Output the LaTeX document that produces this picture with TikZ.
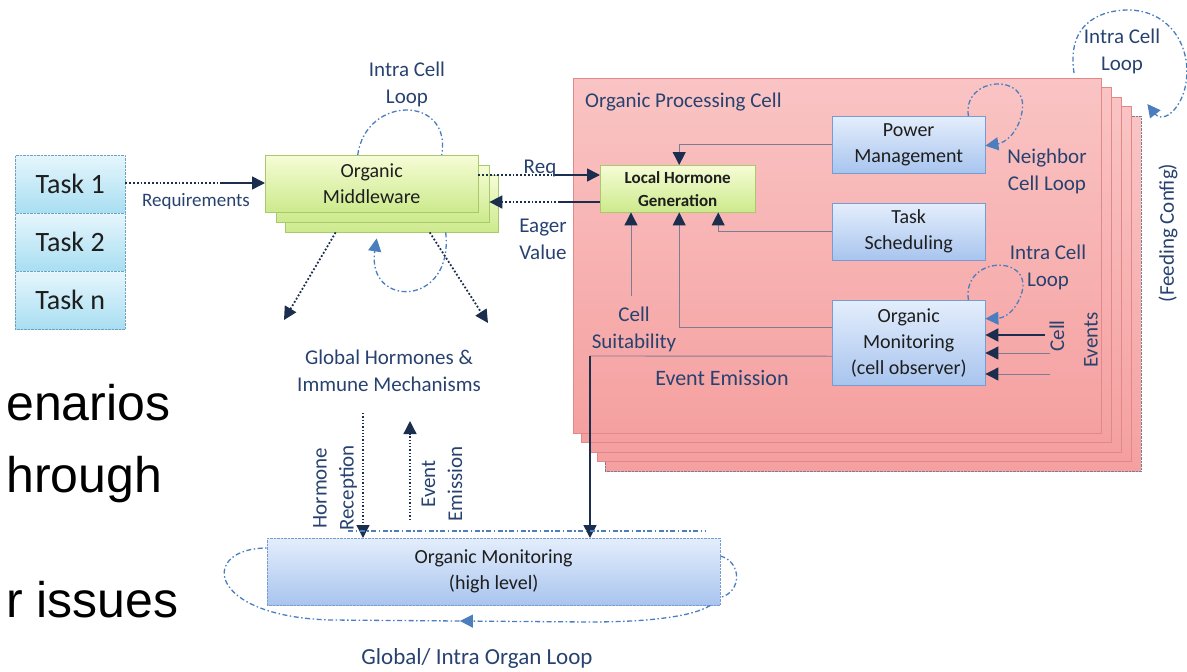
\documentclass[tikz,border=0pt]{standalone}
\usepackage{fontspec}
\setmainfont{Carlito}
\newfontfamily\arialf{Liberation Sans}
\usetikzlibrary{arrows.meta,decorations.markings}
\definecolor{lblc}{RGB}{40,66,112}
\definecolor{navyc}{RGB}{28,46,78}
\definecolor{loopc}{RGB}{74,126,190}
\definecolor{grayl}{RGB}{125,125,145}
\definecolor{grnt}{RGB}{246,252,214}
\definecolor{grnb}{RGB}{204,234,140}
\definecolor{grnd}{RGB}{170,200,110}
\definecolor{blut}{RGB}{228,238,252}
\definecolor{blub}{RGB}{168,196,238}
\definecolor{blud}{RGB}{120,155,212}
\definecolor{tskt}{RGB}{230,246,252}
\definecolor{tskb}{RGB}{168,222,242}
\definecolor{tskd}{RGB}{110,160,192}
\definecolor{pnkt}{RGB}{250,196,196}
\definecolor{pnkb}{RGB}{245,160,160}
\definecolor{pnkd}{RGB}{226,136,136}
\definecolor{txtc}{RGB}{30,30,30}
\begin{document}
\begin{tikzpicture}[x=1pt,y=-1pt,
  lbl/.style={font=\fontsize{21}{27}\selectfont, text=lblc, align=center, inner sep=0pt},
  boxtxt/.style={font=\fontsize{20}{26}\selectfont, text=txtc, align=center, inner sep=0pt},
  taskbox/.style={draw=tskd, densely dotted, top color=tskt, bottom color=tskb, minimum width=110pt, minimum height=58pt, inner sep=0pt, anchor=north west, font=\fontsize{28}{32}\selectfont, text=txtc},
  grnbox/.style={draw=grnd, top color=grnt, bottom color=grnb, inner sep=0pt, anchor=north west},
  blubox/.style={draw=blud, top color=blut, bottom color=blub, inner sep=0pt, anchor=north west, font=\fontsize{20}{26}\selectfont, text=txtc, align=center},
  pnkbox/.style={draw=pnkd, top color=pnkt, bottom color=pnkb, inner sep=0pt, anchor=north west, minimum height=355pt},
  tip/.style={-{Triangle[length=13pt,width=13pt,color=navyc]}},
  navyline/.style={draw=navyc, line width=1.5pt},
  navydot/.style={draw=navyc, line width=1.8pt, dotted},
  grline/.style={draw=grayl, line width=0.9pt},
  loopline/.style={draw=loopc, line width=1.3pt, dash pattern=on 5pt off 2.5pt on 1.5pt off 2.5pt},
  looptip/.style={-{Triangle[length=13pt,width=13pt,color=loopc]}},
  bigtxt/.style={font=\arialf\fontsize{50}{56}\selectfont, text=black, inner sep=0pt, anchor=base west}
]
\useasboundingbox (0,0) rectangle (1187,672);

% ---------------- Tasks ----------------
\node[taskbox] (t1) at (15,155) {Task 1};
\node[taskbox] (t2) at (15,213) {Task 2};
\node[taskbox] (tn) at (15,271) {Task n};

% ---------------- Organic Middleware ----------------
\node[grnbox, minimum width=213pt, minimum height=57pt] (mw3) at (285,175) {};
\node[grnbox, minimum width=213pt, minimum height=57pt] (mw2) at (276,165) {};
\node[grnbox, minimum width=213pt, minimum height=57pt, boxtxt] (mw) at (265,155) {Organic\\Middleware};

% Requirements
\coordinate (rq) at (220,183);
\draw[navydot] (t1.east |- rq) -- (rq);
\draw[navyline, tip] (rq) -- (mw.west |- rq);
\node[lbl, font=\fontsize{19}{23}\selectfont] (rqlbl) at (196,201) {Requirements};

% Intra cell loop (middleware)
\node[lbl] (mwloop) at (407,84) {Intra Cell\\Loop};
\draw[loopline] ([xshift=-14pt]mw.north) .. controls (366,95) and (452,95) .. ([xshift=70pt]mw.north);
\draw[loopline, looptip] ([xshift=54pt]mw3.south) .. controls (454,308) and (366,308) .. ([xshift=-15pt,yshift=-6pt]mw3.south);

% Global hormones arrows
\coordinate (gh1) at (284,320);
\coordinate (gh2) at (488,323);
\draw[navydot, tip] ([xshift=-56pt]mw3.south) -- (gh1);
\draw[navydot, tip] ([xshift=38pt]mw3.south) -- (gh2);
\node[lbl] (ghlbl) at (389,371) {Global Hormones \&\\Immune Mechanisms};

% ---------------- Organic Processing Cell ----------------
\node[pnkbox, draw=grayl, densely dotted, minimum width=536pt] (cell4) at (605,116) {};
\node[pnkbox, minimum width=534pt] (cell3) at (597,106) {};
\node[pnkbox, minimum width=532pt] (cell2) at (589,97) {};
\node[pnkbox, minimum width=530pt] (cell1) at (581,87) {};
\node[pnkbox, minimum width=528pt] (cell0) at (573,78) {};
\node[lbl, anchor=west] (opc) at (585,102) {Organic Processing Cell};

\node[grnbox, minimum width=155pt, minimum height=47pt, font=\bfseries\fontsize{17}{23}\selectfont, text=txtc, align=center] (lhg) at (600,165) {Local Hormone\\Generation};
\node[blubox, minimum width=153pt, minimum height=57pt] (pm) at (832,116) {Power\\Management};
\node[blubox, minimum width=153pt, minimum height=57pt] (ts) at (832,203) {Task\\Scheduling};
\node[blubox, minimum width=153pt, minimum height=85pt] (om) at (832,300) {Organic\\Monitoring\\(cell observer)};

% Req / Eager value
\coordinate (rqa) at (555,175);
\draw[navydot] ([yshift=-20pt]mw.north east) -- (rqa);
\draw[navyline, tip] (rqa) -- (lhg.west |- rqa);
\node[lbl] (reqlbl) at (540,168) {Req};
\coordinate (eva) at (560,202);
\draw[navyline] (lhg.west |- eva) -- (eva);
\draw[navydot, tip] (eva) -- (mw2.east |- eva);
\node[lbl] (evlbl) at (543,239) {Eager\\Value};

% Inputs to local hormone generation
\draw[grline, tip] (pm.west) -| ([xshift=1.5pt]lhg.north);
\draw[grline, tip] (ts.west) -| ([xshift=40.5pt]lhg.south);
\draw[grline, tip] ([yshift=15pt]om.west) -| ([xshift=1.5pt]lhg.south);
\coordinate (cs) at (631,296);
\draw[grline, tip] (cs) -- (cs |- lhg.south);
\node[lbl] (cslbl) at (634,329) {Cell\\Suitability};

% Event emission to high level monitoring
\node[blubox, draw=blud, densely dotted, minimum width=453pt, minimum height=67pt] (omh) at (267,538) {Organic Monitoring\\(high level)};
\coordinate (ee) at (590,356);
\draw[grline] ([yshift=-13.5pt]om.west) -- (ee);
\draw[navyline, tip] (ee) -- (ee |- omh.north);
\node[lbl, font=\fontsize{22}{27}\selectfont] (eelbl) at (722,378) {Event Emission};

% Cell events
\coordinate (ce1) at (1045,335);
\coordinate (ce2) at (1050,353);
\coordinate (ce3) at (1050,374);
\draw[navyline, line width=2.2pt, tip] (ce1) -- (ce1 -| om.east);
\draw[grline, tip] (ce2) -- (ce2 -| om.east);
\draw[grline, tip] (ce3) -- (ce3 -| om.east);
\node[lbl, rotate=90] (celbl) at (1057,336) {Cell};
\node[lbl, rotate=90] (evslbl) at (1091,340) {Events};

% Loops inside the cell
\draw[loopline, looptip] ([xshift=-17pt]pm.north east) .. controls (962,76) and (1030,72) .. (1022,112) .. controls (1018,134) and (1004,143) .. ([yshift=-1pt]pm.east);
\node[lbl] (nclbl) at (1047,171) {Neighbor\\Cell Loop};
\draw[loopline, looptip] ([xshift=-17pt]om.north east) .. controls (962,256) and (1032,254) .. (1022,292) .. controls (1016,312) and (1004,318) .. ([yshift=24pt]om.east);
\node[lbl] (iclbl) at (1048,267) {Intra Cell\\Loop};

% Top right loop
\coordinate (trs) at (1074,73);
\draw[loopline, looptip] (trs) .. controls (1066,20) and (1105,10) .. (1128,10) .. controls (1170,10) and (1194,48) .. (1185,88) .. controls (1179,112) and (1162,123) .. ([xshift=6pt,yshift=12pt]cell4.north east);
\node[lbl] (trlbl) at (1122,51) {Intra Cell\\Loop};
\node[lbl, rotate=90] (fclbl) at (1168,233) {(Feeding Config)};

% ---------------- Bottom part ----------------
\coordinate (hr) at (363,413);
\draw[draw=navyc, line width=1.3pt, dotted, tip] (hr) -- (hr |- omh.north);
\node[lbl, rotate=90] (hrlbl) at (335,488) {Hormone\\Reception};
\coordinate (emb) at (410,520);
\coordinate (emt) at (410,421);
\draw[draw=navyc, line width=1.3pt, dotted, tip] (emb) -- (emt);
\node[lbl, rotate=90] (emlbl) at (442,484) {Event\\Emission};

% Global / intra organ loop
\draw[loopline] (348,531) -- (705,531);
\draw[loopline] ([yshift=-18pt]omh.north east) .. controls (742,562) and (742,592) .. ([yshift=8pt]omh.south east);
\draw[loopline, postaction={decorate}, decoration={markings, mark=at position 0.45 with {\arrow{Triangle[length=13pt,width=13pt,color=loopc]}}}]
  ([xshift=-10pt]omh.south east) .. controls (690,618) and (640,622) .. (590,622) -- (330,620) .. controls (205,616) and (200,548) .. ([yshift=-10pt]omh.north west);
\node[lbl, font=\fontsize{23}{27}\selectfont] (golbl) at (477,658) {Global/ Intra Organ Loop};

% ---------------- Background slide text ----------------
\node[bigtxt] (b1) at (6,420) {enarios};
\node[bigtxt] (b2) at (6,492) {hrough};
\node[bigtxt] (b3) at (6,617) {r issues};
\end{tikzpicture}
\end{document}
